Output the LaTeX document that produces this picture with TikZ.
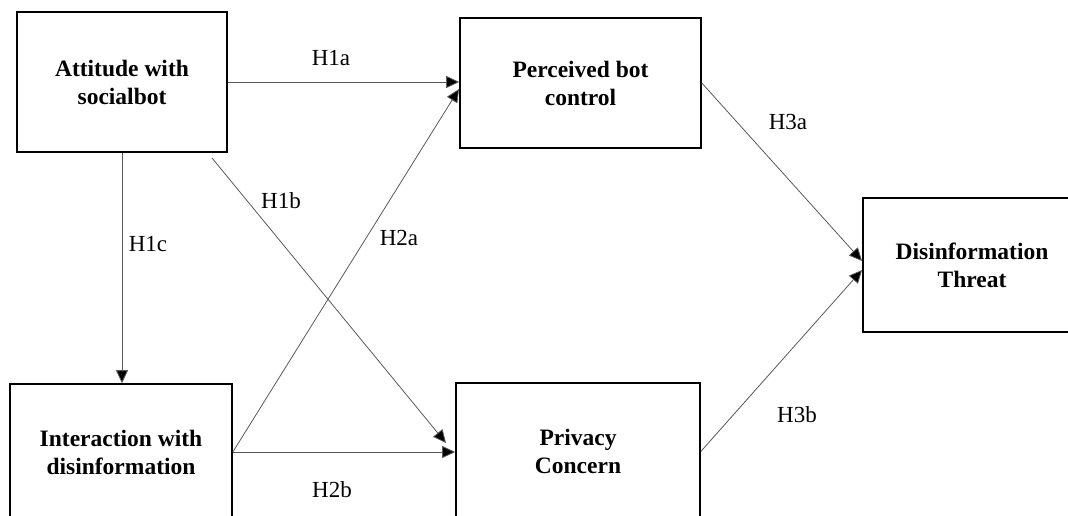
\documentclass[tikz,border=0pt]{standalone}
\usepackage{fontspec}
\setmainfont{Liberation Serif}
\usetikzlibrary{arrows.meta}
\begin{document}
\begin{tikzpicture}[x=1pt,y=-1pt,
  box/.style={draw=black,line width=1.6pt,fill=white,align=center,inner sep=0pt,
    font=\bfseries\fontsize{23.5}{28}\selectfont},
  conn/.style={draw=black!65,line width=0.8pt,-{Triangle[length=13pt,width=12pt,fill=black]}},
  lab/.style={font=\fontsize{23}{26}\selectfont,inner sep=0pt}]
\useasboundingbox (0,0) rectangle (1068,516);
\clip (0,0) rectangle (1068,516);
\node[box,minimum width=210pt,minimum height=140pt] (A) at (122,82) {Attitude with\\socialbot};
\node[box,minimum width=241pt,minimum height=130pt] (P) at (580.5,83) {Perceived bot\\control};
\node[box,minimum width=218pt,minimum height=134pt] (T) at (972,265) {Disinformation\\Threat};
\node[box,minimum width=222pt,minimum height=136pt] (I) at (121,452) {Interaction with\\disinformation};
\node[box,minimum width=244pt,minimum height=137pt] (C) at (578,451.5) {Privacy\\Concern};
\coordinate (h1bs) at (212,158);
\coordinate (h1be) at (446,443);
\coordinate (h2ae) at (459,89);
\coordinate (h3ae) at (862,261);
\coordinate (h3be) at (862,270);
\draw[conn] (A.east) -- (A.east -| P.west);
\draw[conn] (A.south) -- (A.south |- I.north);
\draw[conn] (h1bs) -- (h1be);
\draw[conn] (I.east) -- (h2ae);
\draw[conn] (I.east) -- (I.east -| C.west);
\draw[conn] (P.east) -- (h3ae);
\draw[conn] (C.east) -- (h3be);
\node[lab] (l1a) at (331,58) {H1a};
\node[lab] (l1c) at (148,244) {H1c};
\node[lab] (l1b) at (281,201) {H1b};
\node[lab] (l2a) at (399,238) {H2a};
\node[lab] (l2b) at (332,490) {H2b};
\node[lab] (l3a) at (788,122) {H3a};
\node[lab] (l3b) at (797,415) {H3b};
\end{tikzpicture}
\end{document}
